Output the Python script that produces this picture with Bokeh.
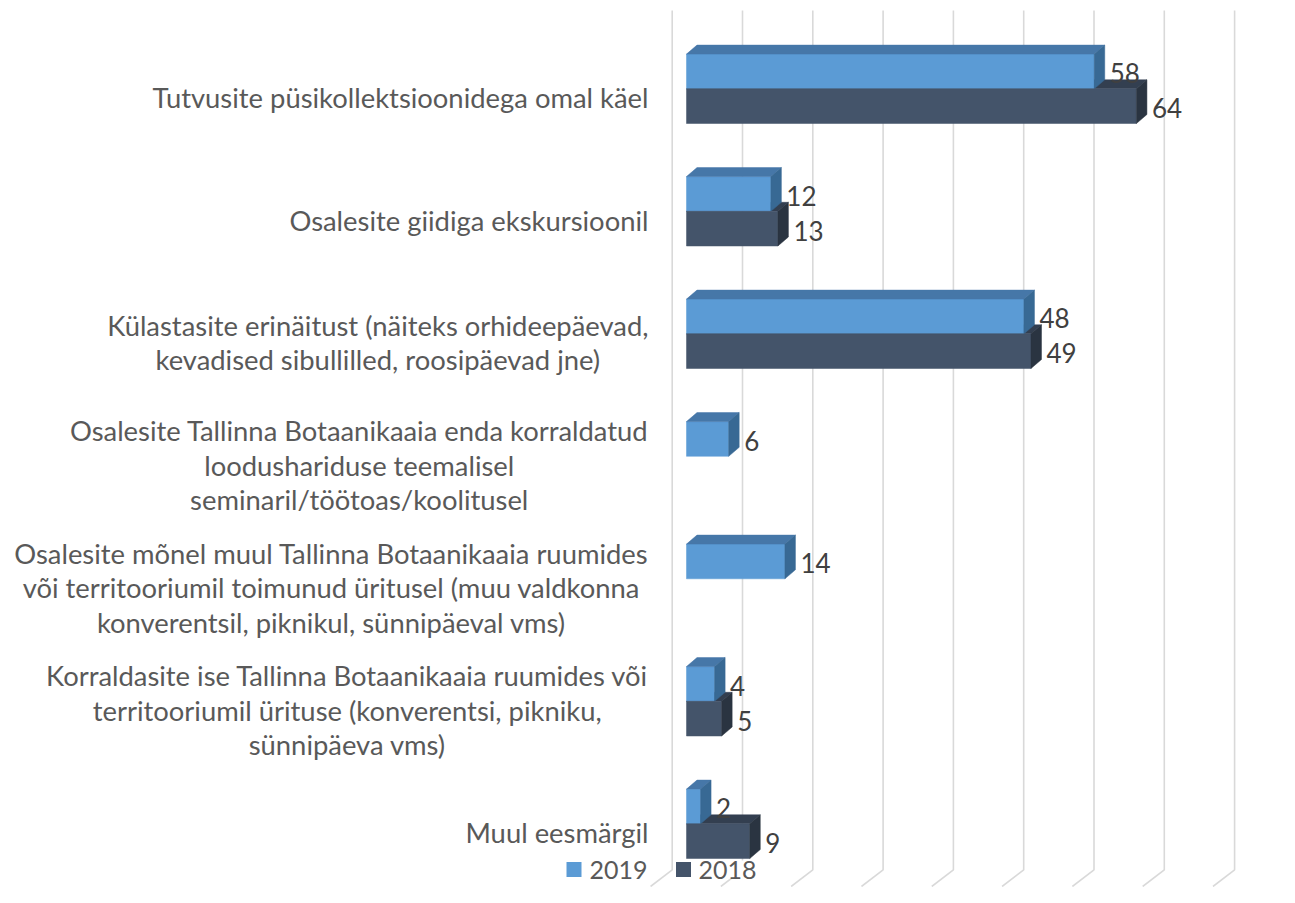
from bokeh.plotting import figure
from bokeh.models import Range1d, ColumnDataSource
from bokeh.core.properties import value
from bokeh.embed import file_html
from bokeh.resources import INLINE

# ---------------- data ----------------
categories = [
    "Tutvusite püsikollektsioonidega omal käel",
    "Osalesite giidiga ekskursioonil",
    "Külastasite erinäitust (näiteks orhideepäevad,\nkevadised sibullilled, roosipäevad jne)",
    "Osalesite Tallinna Botaanikaaia enda korraldatud\nloodushariduse teemalisel\nseminaril/töötoas/koolitusel",
    "Osalesite mõnel muul Tallinna Botaanikaaia ruumides\nvõi territooriumil toimunud üritusel (muu valdkonna\nkonverentsil, piknikul, sünnipäeval vms)",
    "Korraldasite ise Tallinna Botaanikaaia ruumides või\nterritooriumil ürituse (konverentsi, pikniku,\nsünnipäeva vms)",
    "Muul eesmärgil",
]
values_2019 = [58, 12, 48, 6, 14, 4, 2]
values_2018 = [64, 13, 49, None, None, 5, 9]
series_names = ["2019", "2018"]
grid_values = [0, 10, 20, 30, 40, 50, 60, 70, 80, 90]

# ---------------- layout / style ----------------
W, H = 1279, 887
PX_X = 7.03          # pixels per value unit
PX_Y = 122.5         # pixels per category
ZERO_PX = 686        # canvas px of value 0 (front face)
FIRST_CAT_PX = 88.3  # canvas px of first category centre line
x_start = -ZERO_PX / PX_X
x_end = x_start + W / PX_X
y_top = -FIRST_CAT_PX / PX_Y
y_bottom = y_top + H / PX_Y

def px_x(px):  # canvas pixel (from left) -> data x
    return x_start + px / PX_X

def px_y(px):  # canvas pixel (from top) -> data y
    return y_top + px / PX_Y

DX = 10.5 / PX_X     # 3D depth offset (right)
DY = 9.0 / PX_Y      # 3D depth offset (up)
BAR_H = 34.7 / PX_Y
GRID_SHIFT = -14.3 / PX_X
FLOOR_TOP, FLOOR_BOTTOM = 869.3, 886.0
SLANT_X = 1.295 * (FLOOR_BOTTOM - FLOOR_TOP) / PX_X

FONT = "Lato"
C_BLUE = ("#5B9BD5", "#4677A8", "#386994")   # front, top, side
C_DARK = ("#44546A", "#333F50", "#2A3441")
GRID_C = "#D9D9D9"

p = figure(width=W, height=H, x_range=Range1d(x_start, x_end),
           y_range=Range1d(y_bottom, y_top), output_backend="svg",
           toolbar_location=None, x_axis_type=None, y_axis_type=None,
           min_border=0, outline_line_color=None, background_fill_color="white",
           border_fill_color="white")
p.xgrid.visible = False
p.ygrid.visible = False

# gridlines (back wall + floor)
gx, gy = [], []
for g in grid_values:
    x0 = g + GRID_SHIFT
    gx.append([x0, x0, x0 - SLANT_X])
    gy.append([px_y(10), px_y(FLOOR_TOP), px_y(FLOOR_BOTTOM)])
p.multi_line(gx, gy, line_color=GRID_C, line_width=1.6)

def faces(vals, upper):
    fr = dict(left=[], right=[], top=[], bottom=[])
    tx, ty, sx, sy = [], [], [], []
    for i, v in enumerate(vals):
        if v is None:
            continue
        a = i - BAR_H if upper else i
        b = i if upper else i + BAR_H
        fr["left"].append(0); fr["right"].append(v)
        fr["top"].append(a); fr["bottom"].append(b)
        tx.append([0, v, v + DX, DX]); ty.append([a, a, a - DY, a - DY])
        sx.append([v, v + DX, v + DX, v]); sy.append([a, a - DY, b - DY, b])
    return fr, (tx, ty), (sx, sy)

b_front, b_top, b_side = faces(values_2019, True)
d_front, d_top, d_side = faces(values_2018, False)

p.patches(d_top[0], d_top[1], fill_color=C_DARK[1], line_color=C_DARK[1], line_width=0.5)
p.quad(source=ColumnDataSource(b_front), left="left", right="right", top="top", bottom="bottom",
       fill_color=C_BLUE[0], line_color=C_BLUE[0], line_width=0.5)
p.patches(b_top[0], b_top[1], fill_color=C_BLUE[1], line_color=C_BLUE[1], line_width=0.5)
p.patches(b_side[0], b_side[1], fill_color=C_BLUE[2], line_color=C_BLUE[2], line_width=0.5)
p.quad(source=ColumnDataSource(d_front), left="left", right="right", top="top", bottom="bottom",
       fill_color=C_DARK[0], line_color=C_DARK[0], line_width=0.5)
p.patches(d_side[0], d_side[1], fill_color=C_DARK[2], line_color=C_DARK[2], line_width=0.5)

# data labels
lx, ly, lt = [], [], []
for i, v in enumerate(values_2019):
    lx.append(v + DX + 5 / PX_X); ly.append(i - BAR_H / 2 + 2 / PX_Y); lt.append(str(v))
for i, v in enumerate(values_2018):
    if v is None:
        continue
    lx.append(v + DX + 5 / PX_X); ly.append(i + BAR_H / 2 + 2 / PX_Y); lt.append(str(v))
p.text(lx, ly, lt, text_font=value(FONT), text_font_size="26px", text_color="#404040",
       text_align="left", text_baseline="middle")

# category labels (block right-aligned, lines centred)
cx = [px_x(648)] * len(categories)
cy = [i + 9 / PX_Y for i in range(len(categories))]
p.text(cx, cy, categories, text_font=value(FONT), text_font_size="27.4px", text_color="#595959",
       text_align="center", text_baseline="middle", anchor="center_right",
       text_line_height=1.04)

# legend
leg_y = px_y(869)
p.rect([px_x(573.5), px_x(683)], [leg_y, leg_y], width=15, height=15,
       width_units="screen", height_units="screen", fill_color=[C_BLUE[0], C_DARK[0]], line_color=None)
p.text([px_x(589), px_x(698)], [leg_y, leg_y], series_names,
       text_font=value(FONT), text_font_size="25px", text_color="#595959",
       text_align="left", text_baseline="middle", background_fill_color="white")

open("out.html", "w").write(file_html(p, INLINE))
